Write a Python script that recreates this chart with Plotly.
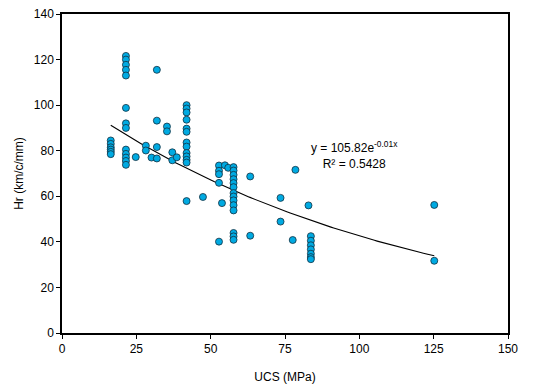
import numpy as np
import plotly.graph_objects as go

# UCS (MPa) values as positioned in the picture, with Hr (km/c/mm)
ucs = (
    [16.4] * 6
    + [21.5] * 13
    + [24.8]
    + [28.2] * 2
    + [30.1]
    + [31.9] * 4
    + [35.3] * 2
    + [37.1] * 2
    + [38.6]
    + [41.9] * 13
    + [47.4]
    + [52.8] * 5
    + [53.8]
    + [54.8]
    + [55.9]
    + [57.7] * 14
    + [63.3] * 2
    + [73.5] * 2
    + [77.6]
    + [78.5]
    + [82.9]
    + [83.7] * 7
    + [125.2] * 2
)
hr = (
    [84.5, 83, 81.5, 80.5, 79.5, 78.5]
    + [121.6, 120, 117.7, 115.5, 113, 98.8, 92, 90, 80.5, 78.6, 77, 75.5, 73.8]
    + [77.2]
    + [82.2, 80.1]
    + [77]
    + [115.5, 93.2, 81.6, 76.6]
    + [90.6, 88.5]
    + [79.3, 75.8]
    + [77.1]
    + [100, 98.5, 96.8, 93.6, 89.7, 88.3, 83.6, 81.8, 79, 77.5, 76, 74.8, 57.9]
    + [59.7]
    + [73.5, 71.2, 69.7, 65.9, 40.1]
    + [57]
    + [73.6]
    + [72.5]
    + [72.8, 71.3, 69.4, 67.5, 65.8, 64, 61.4, 59.9, 58.2, 56.1, 53.8, 43.9, 42.4, 40.9]
    + [68.7, 42.7]
    + [59.3, 48.9]
    + [40.8]
    + [71.6]
    + [56]
    + [42.5, 40.5, 38.5, 36.7, 34.8, 33.3, 32.4]
    + [56.2, 31.7]
)

x_ticks = [0, 25, 50, 75, 100, 125, 150]
y_ticks = [0, 20, 40, 60, 80, 100, 120, 140]
equation_text = "y = 105.82e<sup>-0.01x</sup><br>R² = 0.5428"

# exponential trendline coefficients (as drawn in the picture)
trend_a = 105.82
trend_k = 0.0091

xa = np.array(ucs, dtype=float)
xf = np.linspace(xa.min(), xa.max(), 120)
yf = trend_a * np.exp(-trend_k * xf)

fig = go.Figure()
fig.add_trace(go.Scatter(
    x=xf, y=yf, mode="lines",
    line=dict(color="black", width=1.1),
    hoverinfo="skip", showlegend=False,
))
fig.add_trace(go.Scatter(
    x=ucs, y=hr, mode="markers",
    marker=dict(size=7, color="#00AAE2", line=dict(color="#123040", width=0.8)),
    showlegend=False,
))

font_family = "Liberation Sans, Arial, sans-serif"
fig.add_annotation(
    x=98.3, y=78, xref="x", yref="y", text=equation_text,
    showarrow=False, align="center",
    font=dict(family=font_family, size=12, color="black"),
)

axis_common = dict(
    showgrid=False, zeroline=False,
    showline=True, linecolor="black", linewidth=1.5, mirror=True,
    ticks="outside", ticklen=4, tickwidth=1, tickcolor="black",
    ticklabeloverflow="allow",
    tickfont=dict(family=font_family, size=12, color="black"),
)
fig.update_xaxes(
    range=[0, 150], tickvals=x_ticks, ticktext=[str(v) for v in x_ticks],
    title=dict(text="UCS (MPa)", font=dict(family=font_family, size=12, color="black"), standoff=17),
    **axis_common,
)
fig.update_yaxes(
    range=[0, 140], tickvals=y_ticks, ticktext=[str(v) for v in y_ticks],
    title=dict(text="Hr (km/c/mm)", font=dict(family=font_family, size=12, color="black"), standoff=8),
    **axis_common,
)
fig.update_layout(
    width=535, height=379,
    margin=dict(l=54, r=35, t=6, b=54, autoexpand=False),
    paper_bgcolor="white", plot_bgcolor="white",
    font=dict(family=font_family, size=12, color="black"),
)
fig.write_html("out.html")
